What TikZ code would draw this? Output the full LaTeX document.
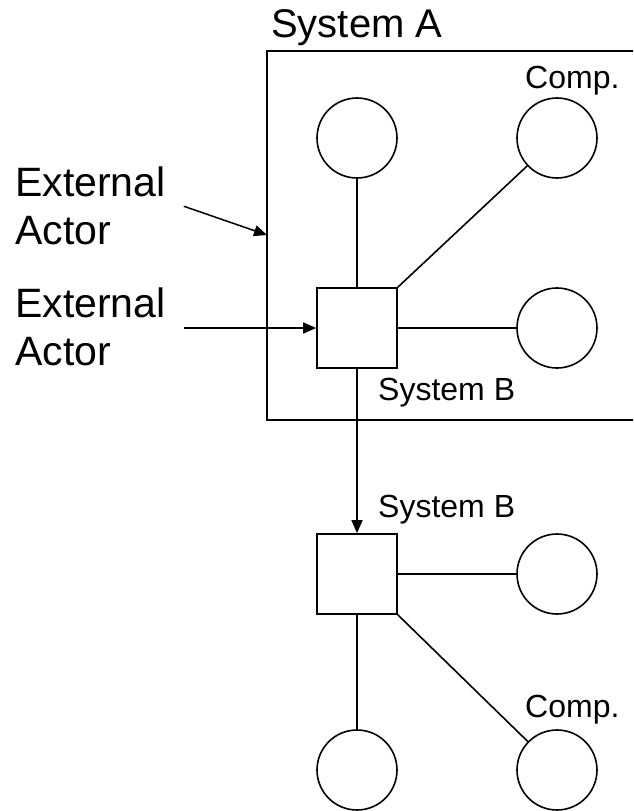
\documentclass[tikz,border=0pt]{standalone}
\usepackage{fontspec}
\setmainfont{Liberation Sans}
\usetikzlibrary{arrows.meta,calc}
\begin{document}
\begin{tikzpicture}[x=1pt,y=-1pt,
  comp/.style={circle,draw,line width=1.6pt,minimum size=80pt,inner sep=0pt},
  sysbox/.style={rectangle,draw,line width=1.6pt,minimum size=80pt,inner sep=0pt},
  link/.style={line width=1.6pt},
  arr/.style={line width=1.5pt,-{Triangle[length=13pt,width=11pt]}},
  lbl/.style={font=\fontsize{32}{38}\selectfont,inner sep=0pt,anchor=base west},
  big/.style={font=\fontsize{41}{48}\selectfont,inner sep=0pt,align=left,anchor=north west},
  bigt/.style={font=\fontsize{40}{48}\selectfont,inner sep=0pt,anchor=base west}]
\useasboundingbox (0,0) rectangle (633,811);
\clip (0,0) rectangle (633,811);
% System A frame (right side runs off the picture)
\node[draw,line width=1.9pt,minimum width=380pt,minimum height=369pt,inner sep=0pt] (sysA) at (457,235.5) {};
\node[bigt] (tA) at (271,37) {System A};
% upper system
\node[comp] (c1) at (357,138) {};
\node[comp] (c2) at (557,138) {};
\node[comp] (c3) at (557,328) {};
\node[sysbox] (s1) at (357,328) {};
\node[lbl] (lc2) at (525,88) {Comp.};
\node[lbl] (ls1) at (378,400) {System B};
\draw[link] (c1.south) -- (s1.north);
\draw[link] (s1.north east) -- (c2);
\draw[link] (s1.east) -- (c3.west);
% lower system
\node[sysbox] (s2) at (357,574) {};
\node[comp] (c4) at (557,574) {};
\node[comp] (c5) at (357,770) {};
\node[comp] (c6) at (557,770) {};
\node[lbl] (ls2) at (378,517) {System B};
\node[lbl] (lc6) at (525,717) {Comp.};
\draw[link] (s2.east) -- (c4.west);
\draw[link] (s2.south) -- (c5.north);
\draw[link] (s2.south east) -- (c6);
\draw[arr] (s1.south) -- (s2.north);
% external actors
\node[big] (ea1) at (15,167) {External\\Actor};
\node[big] (ea2) at (15,288) {External\\Actor};
\coordinate (a1e) at (267,235);
\draw[arr] ([xshift=18pt]ea1.east) -- (a1e);
\draw[arr] ([xshift=18pt]s1.west -| ea2.east) -- (s1.west);
\end{tikzpicture}
\end{document}
